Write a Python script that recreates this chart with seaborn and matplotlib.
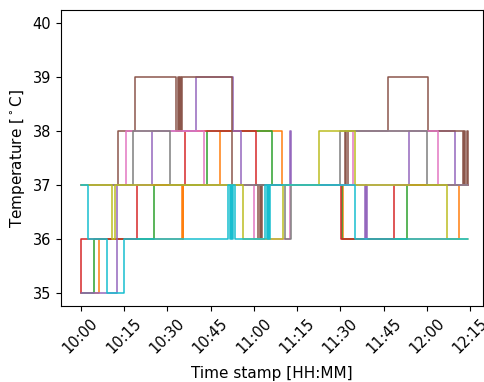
import matplotlib
matplotlib.use("Agg")
import matplotlib.pyplot as plt
import matplotlib.dates as mdates
import seaborn as sns
import pandas as pd

# minutes after 10:00 where the reading changes, and the new reading (deg C)
t_orange = [0, 6.2, 35.0, 35.3, 35.6, 48.4, 69.9, 91.0, 131.1, 134.3]
v_orange = [35, 36, 37, 36, 37, 38, 37, 36, 37, 37]
t_green = [0, 4.8, 25.3, 43.9, 66.4, 90.5, 113.1, 134.3]
v_green = [35, 36, 37, 38, 37, 36, 37, 37]
t_red = [0, 0.3, 19.7, 36.0, 60.6, 90.3, 108.7, 134.3]
v_red = [35, 36, 37, 38, 37, 36, 37, 37]
t_purple = [0, 12.5, 24.9, 39.8, 52.9, 55.7, 72.7, 73.0, 98.6, 98.8, 99.0, 99.2, 113.8, 129.8, 134.3]
v_purple = [35, 37, 38, 39, 38, 37, 38, 37, 36, 37, 36, 37, 38, 37, 37]
t_brown = [0, 12.8, 19.0, 33.2, 33.6, 34.0, 34.4, 34.8, 35.2, 52.6, 61.6, 62.0, 62.4, 62.8, 63.0,
           91.7, 92.1, 92.5, 92.9, 106.6, 120.4, 132.5, 132.9, 133.3, 133.7, 134.3]
v_brown = [37, 38, 39, 38, 39, 38, 39, 38, 39, 37, 36, 37, 36, 37, 37,
           38, 37, 38, 38, 39, 38, 37, 38, 37, 38, 37]
t_pink = [0, 15.6, 42.6, 59.9, 72.7, 94.5, 123.9, 134.3]
v_pink = [37, 38, 37, 36, 37, 38, 37, 37]
t_gray = [0, 18.3, 30.8, 70.9, 73.0, 90.0, 120.1, 134.3]
v_gray = [37, 38, 37, 36, 37, 38, 37, 37]
t_olive = [0, 10.7, 11.8, 56.1, 70.2, 82.7, 95.2, 127.0, 134.3]
v_olive = [37, 36, 37, 36, 37, 38, 37, 36, 36]
t_cyan = [0, 2.4, 9.3, 14.9, 51.2, 51.6, 52.0, 52.4, 52.8, 53.6, 64.0, 64.4, 64.8, 65.2, 65.7, 95.2, 134.3]
v_cyan = [37, 36, 35, 36, 37, 36, 37, 36, 37, 36, 37, 36, 37, 36, 37, 36, 36]

sensors = ["orange", "green", "red", "purple", "brown", "pink", "gray", "olive", "cyan"]
times = [t_orange, t_green, t_red, t_purple, t_brown, t_pink, t_gray, t_olive, t_cyan]
temps = [v_orange, v_green, v_red, v_purple, v_brown, v_pink, v_gray, v_olive, v_cyan]

start = pd.Timestamp("2022-01-01 10:00")
rows = []
for name, tt, vv in zip(sensors, times, temps):
    for t, v in zip(tt, vv):
        rows.append({"sensor": name, "time": start + pd.to_timedelta(t, unit="min"), "temp": v})
df = pd.DataFrame(rows)

sns.set_style("ticks", rc={"axes.edgecolor": "black", "text.color": "black",
                           "axes.labelcolor": "black", "xtick.color": "black",
                           "ytick.color": "black"})
fig = plt.figure(figsize=(4.84, 3.82), dpi=100)
ax = fig.add_axes([0.126, 0.199, 0.872, 0.775])

pal = sns.color_palette("tab10")[1:]
sns.lineplot(data=df, x="time", y="temp", hue="sensor", units="sensor", palette=pal,
             estimator=None, sort=False, drawstyle="steps-post", linewidth=1.1,
             legend=False, ax=ax)

ax.set_xlim(start + pd.to_timedelta(-6.8, unit="min"), start + pd.to_timedelta(139.4, unit="min"))
ax.set_ylim(34.75, 40.25)
ax.xaxis.set_major_locator(mdates.MinuteLocator(byminute=[0, 15, 30, 45]))
ax.xaxis.set_major_formatter(mdates.DateFormatter("%H:%M"))
ax.tick_params(axis="x", labelrotation=45, labelsize=10.5)
ax.tick_params(axis="y", labelsize=10.5)
for lab in ax.get_xticklabels():
    lab.set_ha("center")
ax.set_xlabel("Time stamp [HH:MM]", fontsize=11, labelpad=7)
ax.set_ylabel(r"Temperature [$^\circ$C]", fontsize=11)
for s in ax.spines.values():
    s.set_visible(True)

fig.savefig("out.png", dpi=100)
